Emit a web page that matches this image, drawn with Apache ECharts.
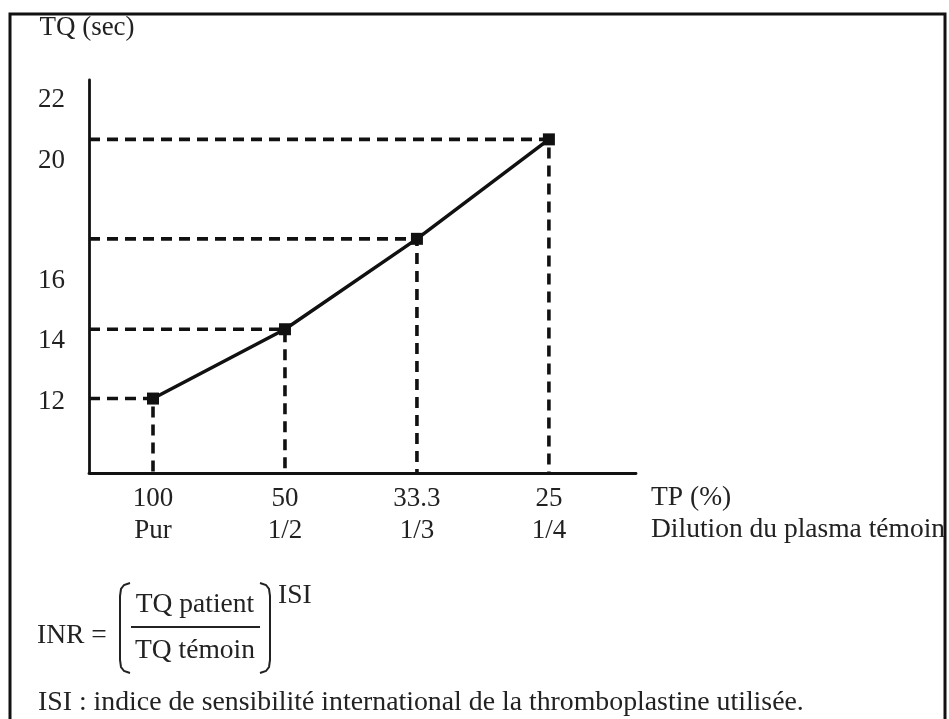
<!DOCTYPE html>
<html>
<head>
<meta charset="utf-8">
<title>TQ / INR</title>
<script src="https://cdn.jsdelivr.net/npm/echarts@6/dist/echarts.min.js"></script>
<style>
  html, body { margin: 0; padding: 0; background: #fff; }
  #chart { width: 949px; height: 719px; }
</style>
</head>
<body>
<div id="chart"></div>
<script>
// axe X : TP et dilution du plasma témoin
const tpLabels = ['100', '50', '33.3', '25']
const dilutionLabels = ['Pur', '1/2', '1/3', '1/4']
// TQ mesuré à chaque dilution (sec)
const tqValues = [12.1, 14.4, 17.4, 20.7]
// graduations affichées sur l'axe Y
const yTicks = [12, 14, 16, 20, 22]

const X_MIN = -0.485, X_MAX = 3.66
const Y_MIN = 9.63, Y_MAX = 22.67

const FONT = "'Liberation Serif', 'DejaVu Serif', serif"
const INK = '#111'
const TEXT = '#222'

const myChart = echarts.init(document.getElementById('chart'))

// courbe principale
const points = tqValues.map((v, i) => [i, v])

// pointillés : de l'axe Y jusqu'au point, puis jusqu'à l'axe X
const guideSeries = points.map(p => ({
  type: 'line',
  data: [[X_MIN, p[1]], p, [p[0], Y_MIN]],
  symbol: 'none',
  silent: true,
  lineStyle: { color: INK, width: 3.6, type: [11, 7] },
  z: 1
}))

// crochets de la formule
const leftBracket = [[130, 583], [124, 585], [121, 589], [120, 596], [120, 660], [121, 667], [124, 671], [130, 673]]
const rightBracket = leftBracket.map(([x, y]) => [390 - x, y])

const option = {
  backgroundColor: '#fff',
  animation: false,
  grid: {
    left: 89,
    right: 313,
    top: 80,
    bottom: 246,
    containLabel: false,
    outerBoundsMode: 'none'
  },
  xAxis: {
    type: 'value',
    min: X_MIN,
    max: X_MAX,
    name: 'TP (%)\nDilution du plasma témoin',
    nameLocation: 'end',
    nameGap: 15,
    nameTextStyle: {
      fontFamily: FONT,
      fontSize: 27.5,
      color: TEXT,
      align: 'left',
      verticalAlign: 'top',
      lineHeight: 32,
      padding: [9, 0, 0, 0]
    },
    axisLine: { onZero: false, lineStyle: { color: INK, width: 2.8 } },
    axisTick: { show: false },
    splitLine: { show: false },
    axisLabel: {
      customValues: [0, 1, 2, 3],
      formatter: v => {
        const i = Math.round(v)
        return tpLabels[i] + '\n' + dilutionLabels[i]
      },
      fontFamily: FONT,
      fontSize: 27,
      lineHeight: 32,
      color: TEXT,
      margin: 10
    }
  },
  yAxis: {
    type: 'value',
    min: Y_MIN,
    max: Y_MAX,
    name: 'TQ (sec)',
    nameLocation: 'end',
    nameGap: 52,
    nameTextStyle: {
      fontFamily: FONT,
      fontSize: 27,
      color: TEXT,
      align: 'center',
      verticalAlign: 'middle',
      padding: [0, 4, 0, 0]
    },
    axisLine: { show: true, onZero: false, lineStyle: { color: INK, width: 2.8 } },
    axisTick: { show: false },
    splitLine: { show: false },
    axisLabel: {
      customValues: yTicks,
      fontFamily: FONT,
      fontSize: 27,
      color: TEXT,
      margin: 24
    }
  },
  series: [
    ...guideSeries,
    {
      type: 'line',
      data: points,
      symbol: 'rect',
      symbolSize: 12,
      itemStyle: { color: INK },
      lineStyle: { color: INK, width: 3.5 },
      z: 3
    }
  ],
  graphic: [
    // cadre
    {
      type: 'rect',
      shape: { x: 10, y: 14, width: 935, height: 740 },
      style: { fill: 'none', stroke: INK, lineWidth: 3 },
      silent: true
    },
    {
      type: 'text', x: 37, y: 636,
      style: { text: 'INR =', font: '27.5px ' + FONT, fill: TEXT, verticalAlign: 'middle' }
    },
    {
      type: 'polyline', shape: { points: leftBracket },
      style: { stroke: TEXT, lineWidth: 2, fill: 'none' }
    },
    {
      type: 'text', x: 195, y: 605,
      style: { text: 'TQ patient', font: '27.5px ' + FONT, fill: TEXT, align: 'center', verticalAlign: 'middle' }
    },
    {
      type: 'line', shape: { x1: 131, y1: 627, x2: 260, y2: 627 },
      style: { stroke: TEXT, lineWidth: 2 }
    },
    {
      type: 'text', x: 195, y: 651,
      style: { text: 'TQ témoin', font: '27.5px ' + FONT, fill: TEXT, align: 'center', verticalAlign: 'middle' }
    },
    {
      type: 'polyline', shape: { points: rightBracket },
      style: { stroke: TEXT, lineWidth: 2, fill: 'none' }
    },
    {
      type: 'text', x: 278, y: 596,
      style: { text: 'ISI', font: '27.5px ' + FONT, fill: TEXT, verticalAlign: 'middle' }
    },
    {
      type: 'text', x: 38, y: 703,
      style: {
        text: 'ISI : indice de sensibilité international de la thromboplastine utilisée.',
        font: '27.8px ' + FONT, fill: TEXT, verticalAlign: 'middle'
      }
    }
  ]
}

option && myChart.setOption(option)
</script>
</body>
</html>
